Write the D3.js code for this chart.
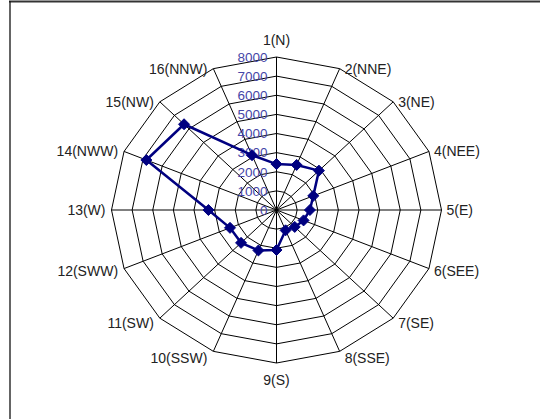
<!DOCTYPE html>
<html>
<head>
<meta charset="utf-8">
<script src="https://cdn.jsdelivr.net/npm/d3@7/dist/d3.min.js"></script>
<style>
  html, body { margin: 0; padding: 0; background: #fff; }
  svg { display: block; }
  text { font-family: "Liberation Sans", Arial, sans-serif; }
</style>
</head>
<body>
<svg id="chart" width="540" height="419"></svg>
<script>
// Wind directions (16 compass points) and the counts per direction
const categories = ["1(N)", "2(NNE)", "3(NE)", "4(NEE)", "5(E)", "6(SEE)", "7(SE)", "8(SSE)",
                    "9(S)", "10(SSW)", "11(SW)", "12(SWW)", "13(W)", "14(NWW)", "15(NW)", "16(NNW)"];
const values = [2400, 2550, 2910, 1930, 1620, 1420, 1250, 1150,
                2090, 2290, 2430, 2440, 3300, 6830, 6340, 3100];
const ringTicks = [0, 1000, 2000, 3000, 4000, 5000, 6000, 7000, 8000];

const svg = d3.select("#chart");
const W = 540, H = 419;

// Chart frame (top and left edges fall inside the view)
svg.append("line").attr("x1", 9).attr("x2", W).attr("y1", 1.5).attr("y2", 1.5)
  .attr("stroke", "#333").attr("stroke-width", 2);
svg.append("line").attr("x1", 10).attr("x2", 10).attr("y1", 1).attr("y2", H)
  .attr("stroke", "#111").attr("stroke-width", 1.3);

// Plot geometry: the plot area is slightly wider than tall
const cx = 276.5, cy = 210, rx = 165, ry = 153;

const rScale = d3.scaleLinear().domain([0, 8000]).range([0, 1]);
const aScale = d3.scaleLinear().domain([0, categories.length]).range([0, 2 * Math.PI]);

function pos(i, v) {
  const a = aScale(i), r = rScale(v);
  return [cx + rx * r * Math.sin(a), cy - ry * r * Math.cos(a)];
}

const grid = svg.append("g").attr("fill", "none").attr("stroke", "#000").attr("stroke-width", 1);

// Polygonal rings
ringTicks.filter(t => t > 0).forEach(t => {
  const pts = categories.map((c, i) => pos(i, t));
  grid.append("path").attr("d", d3.line().curve(d3.curveLinearClosed)(pts));
});

// Spokes
categories.forEach((c, i) => {
  const [x, y] = pos(i, 8000);
  grid.append("line").attr("x1", cx).attr("y1", cy).attr("x2", x).attr("y2", y);
});

// Ring value labels along the N spoke
svg.append("g").selectAll("text").data(ringTicks).join("text")
  .attr("x", cx - 9)
  .attr("y", d => pos(0, d)[1])
  .attr("dy", "0.36em")
  .attr("text-anchor", "end")
  .attr("font-size", 13.5)
  .attr("fill", "#4646a8")
  .text(d => d);

// Direction labels around the outside
svg.append("g").selectAll("text").data(categories).join("text")
  .each(function (d, i) {
    const a = aScale(i);
    const s = Math.sin(a), c = Math.cos(a);
    const [vx, vy] = pos(i, 8000);
    const t = d3.select(this);
    let anchor = "middle", x = vx, y = vy;
    if (s > 0.1) { anchor = "start"; x = vx + 5; }
    else if (s < -0.1) { anchor = "end"; x = vx - 6; }
    if (Math.abs(s) <= 0.1) { y = vy - c * 17; }
    else if (c < 0) { y = vy - c * 7; }
    t.attr("x", x).attr("y", y).attr("dy", "0.36em").attr("text-anchor", anchor);
  })
  .attr("font-size", 14)
  .attr("fill", "#222")
  .text(d => d);

// Data series
const pts = values.map((v, i) => pos(i, v));
svg.append("path")
  .attr("d", d3.line().curve(d3.curveLinearClosed)(pts))
  .attr("fill", "none")
  .attr("stroke", "#000080")
  .attr("stroke-width", 2.5)
  .attr("stroke-linejoin", "round");

const diamond = "M0,-5.5L5.5,0L0,5.5L-5.5,0Z";
svg.append("g").selectAll("path").data(values).join("path")
  .attr("transform", (v, i) => `translate(${pos(i, v)[0]},${pos(i, v)[1]})`)
  .attr("d", diamond)
  .attr("fill", "#000080")
  .attr("stroke", "#000080")
  .attr("stroke-width", 1);
</script>
</body>
</html>
